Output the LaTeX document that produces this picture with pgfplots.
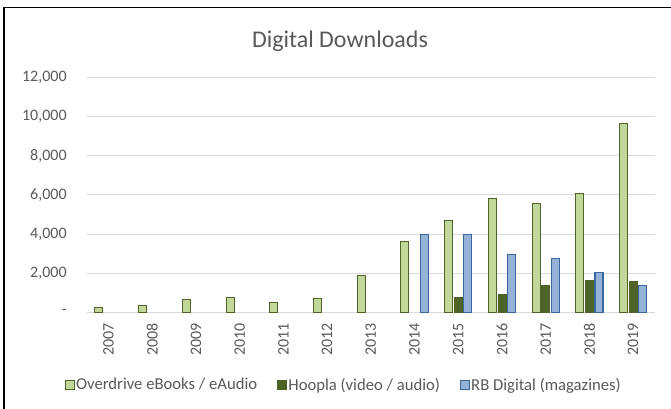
\documentclass[border=0pt]{standalone}
\usepackage{fontspec}
\setmainfont{Carlito}
\usepackage{pgfplots}
\pgfplotsset{compat=1.18}
\definecolor{odfill}{HTML}{C4D79B}
\definecolor{oddraw}{HTML}{4F6228}
\definecolor{hoopla}{HTML}{4F6228}
\definecolor{rbfill}{HTML}{95B3D7}
\definecolor{rbdraw}{HTML}{3A679C}
\definecolor{gridgray}{HTML}{D9D9D9}
\definecolor{txtgray}{HTML}{595959}

\begin{document}
\begin{tikzpicture}[x=0.75pt,y=0.75pt]
\path[use as bounding box] (0,0) rectangle (671,409);
% chart frame (cropped on the right and bottom)
\draw[line width=1.3pt] (4.2,-20) -- (4.2,401.5) -- (690,401.5);
\node[anchor=base, text=txtgray, font=\fontsize{18}{22}\selectfont, inner sep=0pt] at (340,361.7) {Digital Downloads};
\begin{axis}[
  at={(65.0pt,72.5pt)}, anchor=south west,
  scale only axis, width=426.2pt, height=176.1pt,
  ybar, bar width=6pt,
  xmin=-0.5, xmax=12.5,
  ymin=0, ymax=12000,
  xtick={0,...,12},
  xticklabels={2007,2008,2009,2010,2011,2012,2013,2014,2015,2016,2017,2018,2019},
  ytick={0,2000,...,12000},
  yticklabels={{-\hspace{5.2pt}},{2,000},{4,000},{6,000},{8,000},{10,000},{12,000}},
  scaled y ticks=false,
  /pgf/number format/assume math mode=true,
  axis line style={draw=none},
  major tick length=0pt,
  ymajorgrids, grid style={gridgray, line width=0.75pt},
  tick label style={text=txtgray, font=\fontsize{12}{14}\selectfont, inner sep=0pt},
  xticklabel style={rotate=90, anchor=east},
  xticklabel shift=8pt,
  yticklabel style={anchor=east},
  yticklabel shift=14.8pt,
  legend columns=3,
  legend style={at={(0.452,-0.3096)}, anchor=center, draw=none,
    font=\fontsize{12.5}{15}\selectfont, text=txtgray,
    nodes={inner xsep=1pt},
    /tikz/every even column/.append style={column sep=14pt}},
  legend image code/.code={\draw[#1, line width=0.8pt] (0pt,-3.3pt) rectangle (6.6pt,3.3pt);},
]
\addplot[fill=odfill, draw=oddraw, line width=0.8pt, bar shift=-7.2pt] coordinates {
  (0,230) (1,360) (2,650) (3,735) (4,510) (5,685) (6,1860) (7,3610) (8,4700) (9,5810) (10,5540) (11,6050) (12,9630)
};
\addplot[fill=hoopla, draw=hoopla, line width=0.5pt, bar shift=0pt] coordinates {
  (8,770) (9,900) (10,1360) (11,1650) (12,1600)
};
\addplot[fill=rbfill, draw=rbdraw, line width=0.8pt, bar shift=7.2pt] coordinates {
  (7,3990) (8,3990) (9,2940) (10,2750) (11,2020) (12,1370)
};
\legend{Overdrive eBooks / eAudio, Hoopla (video / audio), RB Digital (magazines)}
\end{axis}
\end{tikzpicture}
\end{document}
